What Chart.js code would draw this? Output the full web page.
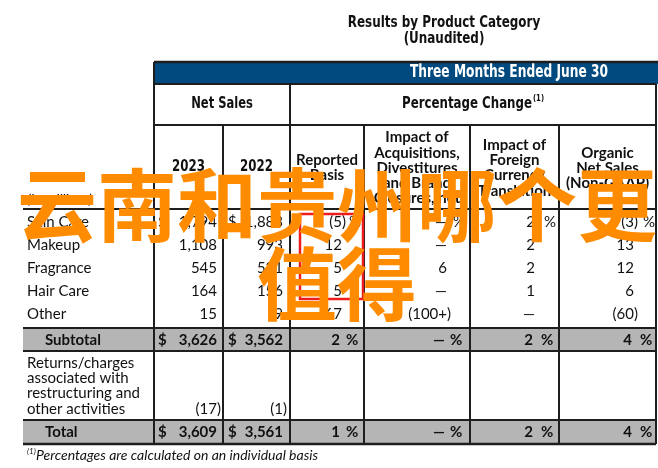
<!DOCTYPE html>
<html lang="en">
<head>
<meta charset="UTF-8">
<title>Results by Product Category</title>
<script src="https://cdn.jsdelivr.net/npm/chart.js"></script>
<style>
  html, body { margin: 0; padding: 0; background: #fff; }
  canvas { display: block; }
</style>
</head>
<body>
<canvas id="tableChart" width="658" height="468"></canvas>
<script>
// Data (in millions / percent)
const categories = ['Skin Care', 'Makeup', 'Fragrance', 'Hair Care', 'Other'];
const sales2023 = [1794, 1108, 545, 164, 15];
const sales2022 = [1883, 993, 521, 156, 9];
const reportedPct = [-5, 12, 5, 5, 67];
const acquisitionPct = [null, null, 6, null, '(100+)'];
const currencyPct = [2, 2, 2, 1, null];
const organicPct = [-3, 13, 12, 6, -60];
const subtotalSales = [3626, 3562];
const subtotalPct = [2, null, 2, 4];
const returnsSales = [-17, -1];
const totalSales = [3609, 3561];
const totalPct = [1, null, 2, 4];
const yearLabels = ['2023', '2022'];
const changeLabels = [
  ['Reported', 'Basis'],
  ['Impact of', 'Acquisitions,', 'Divestitures', 'and Brand', 'Closures, net'],
  ['Impact of', 'Foreign', 'Currency', 'Translation'],
  ['Organic', 'Net Sales', '(Non-GAAP)']
];
const overlayText = ['云南和贵州哪个更', '值得'];

// layout (canvas units)
const W = 658, H = 468;
const colEdges = [23, 154, 223, 290, 364, 470, 559, 656];
const salesRight = [217, 283];
const pctRight = [342, 447, 535, 634];
const pctSign = [349, 453, 544, 643];
const rowMid = [222, 245, 268, 291, 314];
const LINE = '#1e1e1e';
const BLUE = '#004a7f';
const GRAY = '#b5b5b5';

const bodyFont = '15px Lato, "Open Sans", sans-serif';
const boldFont = 'bold 15px Lato, "Open Sans", sans-serif';
const headFont = 'bold 15px Lato, "Open Sans", sans-serif';
const condBold = (s) => 'bold ' + s + 'px "DejaVu Sans Condensed", "DejaVu Sans", sans-serif';

function fmt(v) {
  return Math.abs(v).toLocaleString('en-US');
}

const tablePlugin = {
  id: 'tablePlugin',
  beforeDraw(chart) {
    const c = chart.ctx;
    c.save();
    c.fillStyle = '#fff';
    c.fillRect(0, 0, chart.width, chart.height);
    c.restore();
  },
  afterDraw(chart) {
    const c = chart.ctx;
    const sx = chart.scales.x, sy = chart.scales.y;
    const X = (v) => sx.getPixelForValue(v);
    const Y = (v) => sy.getPixelForValue(v);

    // squeeze < 1 narrows the glyphs horizontally (condensed look)
    function text(str, x, y, font, align, color, squeeze) {
      c.save();
      c.font = font;
      c.textAlign = align || 'left';
      c.textBaseline = 'middle';
      c.fillStyle = color || '#111';
      c.translate(X(x), Y(y));
      c.scale(squeeze || 1, 1);
      c.fillText(str, 0, 0);
      c.restore();
    }
    // number right-aligned on its digits, closing paren hangs to the right
    function num(v, right, y, font) {
      if (v === null) { text('\u2014', right, y, font, 'right'); return; }
      if (typeof v === 'string') {
        if (v.endsWith(')')) { text(v.slice(0, -1), right, y, font, 'right'); text(')', right, y, font, 'left'); }
        else text(v, right, y, font, 'right');
        return;
      }
      if (v < 0) {
        text('(' + fmt(v), right, y, font, 'right');
        text(')', right, y, font, 'left');
      } else {
        text(fmt(v), right, y, font, 'right');
      }
    }
    function rect(x0, y0, x1, y1, fill) {
      c.fillStyle = fill;
      c.fillRect(X(x0), Y(y0), X(x1) - X(x0), Y(y1) - Y(y0));
    }
    function hline(x0, x1, y, w) {
      c.beginPath();
      c.lineWidth = w || 2;
      c.strokeStyle = LINE;
      c.moveTo(X(x0), Y(y));
      c.lineTo(X(x1), Y(y));
      c.stroke();
    }
    function vline(x, y0, y1, w) {
      c.beginPath();
      c.lineWidth = w || 2;
      c.strokeStyle = LINE;
      c.moveTo(X(x), Y(y0));
      c.lineTo(X(x), Y(y1));
      c.stroke();
    }

    // title
    text('Results by Product Category', 444, 23, condBold(16), 'center', '#111', 0.83);
    text('(Unaudited)', 444, 39, condBold(16), 'center', '#111', 0.83);

    // backgrounds
    rect(154, 62, 658, 84, BLUE);
    rect(23, 328, 656, 351, GRAY);
    rect(23, 420, 656, 444, GRAY);
    text('Three Months Ended June 30', 509, 73, condBold(17), 'center', '#fff', 0.8);

    // group header row
    text('Net Sales', 222, 104, condBold(16), 'center', '#111', 0.8);
    c.font = condBold(16);
    const pcW = c.measureText('Percentage Change').width * 0.82;
    text('Percentage Change', 467, 104, condBold(16), 'center', '#111', 0.82);
    text('(1)', 467 + pcW / 2 + 1, 99, condBold(9), 'left', '#111', 0.85);

    // column headers
    yearLabels.forEach((lab, i) => {
      text(lab, (colEdges[i + 1] + colEdges[i + 2]) / 2, 167, condBold(16), 'center', '#111', 0.82);
    });
    changeLabels.forEach((lines, i) => {
      const cx = (colEdges[i + 3] + colEdges[i + 4]) / 2;
      const start = 168 - (lines.length - 1) * 15.2 / 2;
      lines.forEach((ln, j) => text(ln, cx, start + j * 15.2, headFont, 'center'));
    });
    text('(In millions)', 27, 199, 'italic 14px Lato, sans-serif', 'left');

    // category rows
    categories.forEach((cat, i) => {
      const y = rowMid[i];
      text(cat, 27, y, bodyFont, 'left');
      if (i === 0) {
        text('$', 158, y, bodyFont, 'left');
        text('$', 228, y, bodyFont, 'left');
      }
      num(sales2023[i], salesRight[0], y, bodyFont);
      num(sales2022[i], salesRight[1], y, bodyFont);
      [reportedPct, acquisitionPct, currencyPct, organicPct].forEach((arr, k) => {
        num(arr[i], pctRight[k], y, bodyFont);
        if (i === 0) text('%', pctSign[k], y, bodyFont, 'left');
      });
    });

    // subtotal / total rows
    function sumRow(label, sales, pct, y) {
      text(label, 45, y, boldFont, 'left');
      text('$', 158, y, boldFont, 'left');
      text('$', 228, y, boldFont, 'left');
      num(sales[0], salesRight[0], y, boldFont);
      num(sales[1], salesRight[1], y, boldFont);
      pct.forEach((v, k) => {
        num(v, pctRight[k] - 2, y, boldFont);
        text('%', pctSign[k] - 3, y, boldFont, 'left');
      });
    }
    sumRow('Subtotal', subtotalSales, subtotalPct, 340);
    sumRow('Total', totalSales, totalPct, 432);

    // returns row
    ['Returns/charges', 'associated with', 'restructuring and', 'other activities'].forEach((ln, j) => {
      text(ln, 27, 363 + j * 15.3, bodyFont, 'left');
    });
    num(returnsSales[0], salesRight[0], 409, bodyFont);
    num(returnsSales[1], salesRight[1], 409, bodyFont);

    // grid lines
    hline(154, 658, 62, 2.5);
    hline(154, 656, 84, 2);
    hline(154, 656, 125, 2);
    hline(23, 656, 209, 2);
    hline(23, 656, 328, 2);
    hline(23, 656, 351, 2);
    hline(23, 656, 420, 2);
    hline(23, 656, 444, 2.5);
    vline(154, 62, 444);
    vline(656, 84, 444);
    vline(290, 84, 444);
    [223, 364, 470, 559].forEach((x) => vline(x, 125, 444));

    // footnote
    text('(1)', 27, 451, 'italic 8px Lato, sans-serif', 'left');
    text('Percentages are calculated on an individual basis', 36, 455, 'italic 14px Lato, sans-serif', 'left');

    // red box
    c.lineWidth = 2.5;
    c.strokeStyle = '#ee1c1c';
    c.strokeRect(X(300), Y(214), X(363) - X(300), Y(299) - Y(214));

    // overlay caption
    overlayText.forEach((ln, j) => {
      text(ln, 337, 205 + j * 79, 'bold 80px "Noto Sans CJK SC", sans-serif', 'center', '#ff8c00');
    });
  }
};

const ctx = document.getElementById('tableChart').getContext('2d');
const chart = new Chart(ctx, {
  type: 'scatter',
  data: { datasets: [] },
  options: {
    responsive: false,
    animation: false,
    layout: { padding: 0 },
    plugins: { legend: { display: false }, tooltip: { enabled: false } },
    scales: {
      x: { type: 'linear', min: 0, max: W, display: false },
      y: { type: 'linear', min: 0, max: H, reverse: true, display: false }
    }
  },
  plugins: [tablePlugin]
});
</script>
</body>
</html>
